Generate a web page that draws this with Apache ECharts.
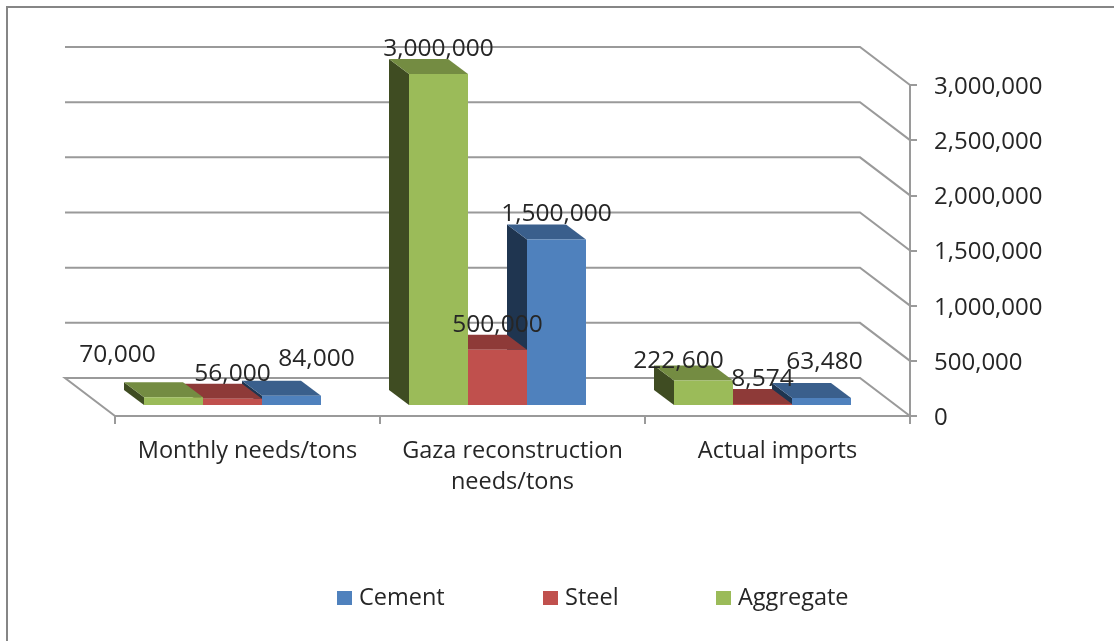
<!DOCTYPE html>
<html lang="en">

<head>
    <meta charset="UTF-8">
    <title>Gaza construction materials</title>
    <style>
        html, body { margin: 0; padding: 0; background: #fff; }
        #myEcharts { width: 1114px; height: 641px; }
    </style>
    <script src="https://cdn.jsdelivr.net/npm/echarts@6/dist/echarts.min.js"></script>
</head>

<body>
    <div id="myEcharts"></div>

    <script>
        const categories = ['Monthly needs/tons', 'Gaza reconstruction\nneeds/tons', 'Actual imports'];
        const cement = [84000, 1500000, 63480];
        const steel = [56000, 500000, 8574];
        const aggregate = [70000, 3000000, 222600];
        const yTicks = [0, 500000, 1000000, 1500000, 2000000, 2500000, 3000000];

        // hand-moved labels in the original, [dx, dy] from the default spot
        const cementNudge = [[25, -12], [0, 0], [3, -11]];
        const steelNudge = [[0, 0], [0, 0], [0, 0]];
        const aggregateNudge = [[-56, -17], [0, 0], [-25, 6]];

        const FONT = '"Open Sans"';
        const TEXT = '#262626';
        const LINE = '#9a9a9a';
        // back wall sits this far from the front axis plane
        const WALL = [-50, -38];
        // bars stand a bit behind the front plane and have this depth
        const BAR_SHIFT = [-13, -11];
        const BAR_DEPTH = [-20, -15];
        const BAR_W = 59;
        const BAR_START = 42; // from band left edge to the first bar, before BAR_SHIFT

        var myChart = echarts.init(document.getElementById('myEcharts'));

        function poly(points, fill) {
            return { type: 'polygon', shape: { points: points }, style: { fill: fill } };
        }

        // one box: slot is 0,1,2 from the left
        function barSeries(name, values, slot, colors) {
            return {
                name: name,
                type: 'custom',
                z: 6 - slot,
                itemStyle: { color: colors.front },
                encode: { x: 0, y: 1 },
                data: values.map(function (v, i) { return [i, v]; }),
                renderItem: function (params, api) {
                    var base = api.coord([api.value(0), 0]);
                    var top = api.coord([api.value(0), api.value(1)]);
                    var bandW = api.size([1, 0])[0];
                    var x0 = base[0] - bandW / 2 + BAR_START + BAR_SHIFT[0] + slot * BAR_W;
                    var x1 = x0 + BAR_W;
                    var yb = base[1] + BAR_SHIFT[1];
                    var yt = top[1] + BAR_SHIFT[1];
                    var dx = BAR_DEPTH[0], dy = BAR_DEPTH[1];
                    return {
                        type: 'group',
                        children: [
                            poly([[x0, yt], [x0 + dx, yt + dy], [x0 + dx, yb + dy], [x0, yb]], colors.side),
                            poly([[x0, yt], [x1, yt], [x1 + dx, yt + dy], [x0 + dx, yt + dy]], colors.top),
                            poly([[x0, yt], [x1, yt], [x1, yb], [x0, yb]], colors.front)
                        ]
                    };
                }
            };
        }

        function labelSeries(values, slot, nudge) {
            return {
                type: 'custom',
                z: 10,
                silent: true,
                data: values.map(function (v, i) { return [i, v]; }),
                encode: { x: 0, y: 1 },
                renderItem: function (params, api) {
                    var i = api.value(0);
                    var base = api.coord([i, 0]);
                    var top = api.coord([i, api.value(1)]);
                    var bandW = api.size([1, 0])[0];
                    var cx = base[0] - bandW / 2 + BAR_START + BAR_SHIFT[0] + (slot + 0.5) * BAR_W;
                    var cy = top[1] + BAR_SHIFT[1] + BAR_DEPTH[1] - 10;
                    return {
                        type: 'text',
                        style: {
                            x: cx + nudge[i][0],
                            y: cy + nudge[i][1],
                            text: echarts.format.addCommas(api.value(1)),
                            fill: TEXT,
                            font: '24.5px ' + FONT,
                            align: 'center',
                            verticalAlign: 'middle'
                        }
                    };
                }
            };
        }

        // back wall lines + right wall slant, floor left edge
        var wallSeries = {
            type: 'custom',
            z: 1,
            silent: true,
            data: yTicks.map(function (v) { return [0, v]; }),
            encode: { y: 1 },
            renderItem: function (params, api) {
                var v = api.value(1);
                var left = api.coord([0, v]);
                var box = params.coordSys;
                var xl = box.x, xr = box.x + box.width, y = left[1];
                var pts = [[xl + WALL[0], y + WALL[1]], [xr + WALL[0], y + WALL[1]], [xr, y]];
                if (v === 0) pts = [[xl, y]].concat(pts);
                return {
                    type: 'polyline',
                    shape: { points: pts },
                    style: { stroke: LINE, lineWidth: 2, fill: null }
                };
            }
        };

        function legendAt(name, left) {
            return {
                data: [name],
                left: left,
                top: 586,
                padding: 0,
                itemWidth: 15,
                itemHeight: 14,
                itemGap: 0,
                icon: 'rect',
                textStyle: { fontFamily: FONT, fontSize: 23.5, color: TEXT, padding: [0, 0, 0, 2] },
                selectedMode: false
            };
        }

        var option = {
            animation: false,
            backgroundColor: '#fff',
            textStyle: { fontFamily: FONT },
            grid: { left: 115, right: 204, top: 85, bottom: 225, containLabel: false },
            legend: [
                legendAt('Cement', 337),
                legendAt('Steel', 543),
                legendAt('Aggregate', 716)
            ],
            xAxis: {
                type: 'category',
                data: categories,
                axisLine: { lineStyle: { color: LINE, width: 2 } },
                axisTick: { show: true, length: 8, alignWithLabel: false, lineStyle: { color: LINE, width: 2 } },
                axisLabel: { color: TEXT, fontFamily: FONT, fontSize: 23.5, lineHeight: 31, margin: 20, interval: 0 },
                splitLine: { show: false }
            },
            yAxis: {
                type: 'value',
                position: 'right',
                min: 0,
                max: 3000000,
                interval: 500000,
                axisLine: { show: true, lineStyle: { color: LINE, width: 2 } },
                axisTick: { show: true, length: 7, lineStyle: { color: LINE, width: 2 } },
                axisLabel: {
                    margin: 24,
                    formatter: function (v) { return '{v|' + echarts.format.addCommas(v) + '}'; },
                    rich: { v: { color: TEXT, fontFamily: FONT, fontSize: 24, padding: [4, 0, 0, 0] } }
                },
                splitLine: { show: false }
            },
            graphic: [
                {
                    type: 'polyline',
                    silent: true,
                    shape: { points: [[7, 641], [7, 7], [1114, 7]] },
                    style: { stroke: '#868686', lineWidth: 2, fill: null }
                }
            ],
            series: [
                wallSeries,
                barSeries('Cement', cement, 2, { front: '#4f81bd', top: '#3a5f8c', side: '#1f3550' }),
                barSeries('Steel', steel, 1, { front: '#c0504d', top: '#8e3a38', side: '#512120' }),
                barSeries('Aggregate', aggregate, 0, { front: '#9bbb59', top: '#748c42', side: '#3f4c22' }),
                labelSeries(cement, 2, cementNudge),
                labelSeries(steel, 1, steelNudge),
                labelSeries(aggregate, 0, aggregateNudge)
            ]
        };

        myChart.setOption(option);
    </script>
</body>

</html>
